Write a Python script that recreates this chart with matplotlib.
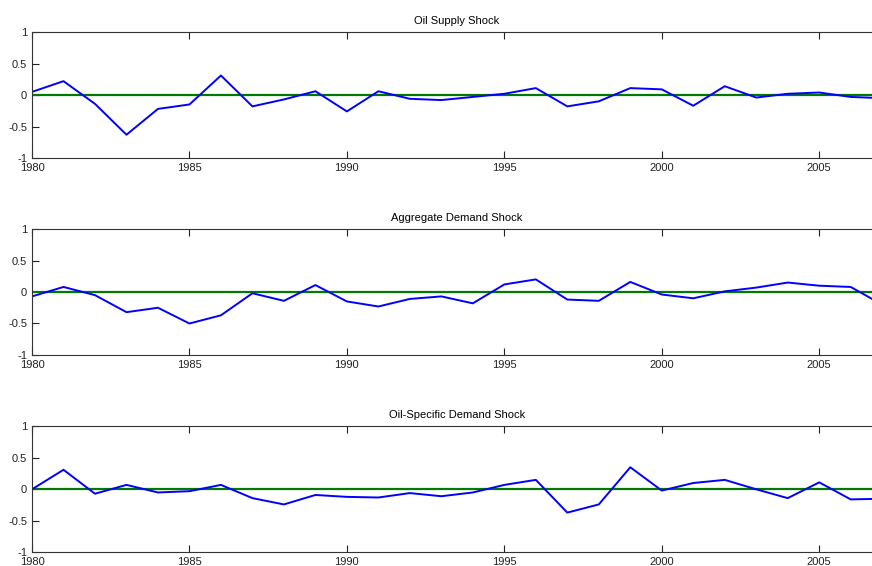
import numpy as np
import matplotlib
matplotlib.use("Agg")
import matplotlib.pyplot as plt

plt.rcParams['font.family'] = ['Liberation Sans', 'DejaVu Sans']

years = list(range(1980, 2008))

oil_supply = [0.05, 0.22, -0.14, -0.63, -0.22, -0.15, 0.31, -0.18, -0.07, 0.06,
              -0.26, 0.06, -0.06, -0.08, -0.03, 0.02, 0.11, -0.18, -0.10, 0.11,
              0.09, -0.17, 0.14, -0.04, 0.02, 0.04, -0.03, -0.05]

agg_demand = [-0.07, 0.08, -0.05, -0.32, -0.25, -0.50, -0.37, -0.02, -0.14, 0.11,
              -0.15, -0.23, -0.11, -0.07, -0.18, 0.12, 0.20, -0.12, -0.14, 0.16,
              -0.04, -0.10, 0.01, 0.07, 0.15, 0.10, 0.08, -0.20]

oil_specific = [0.00, 0.31, -0.07, 0.07, -0.05, -0.03, 0.07, -0.14, -0.24, -0.09,
                -0.12, -0.13, -0.06, -0.11, -0.05, 0.07, 0.15, -0.37, -0.24, 0.35,
                -0.02, 0.10, 0.15, 0.00, -0.14, 0.11, -0.16, -0.15]

titles = ["Oil Supply Shock", "Aggregate Demand Shock", "Oil-Specific Demand Shock"]
series = [oil_supply, agg_demand, oil_specific]

fig = plt.figure(figsize=(8.72, 5.66), dpi=100)

# axes run a little past the right edge, as in the original export
left, width, height = 0.0367, 0.975, 0.2226
bottoms = [0.7208, 0.3728, 0.0242]

for title, vals, bottom in zip(titles, series, bottoms):
    ax = fig.add_axes([left, bottom, width, height])
    ax.plot(years, np.zeros(len(years)), color='#007a00', lw=1.6)
    ax.plot(years, vals, color='#0000ff', lw=1.4)
    ax.set_xlim(1980, 2007)
    ax.set_ylim(-1, 1)
    ax.set_xticks([1980, 1985, 1990, 1995, 2000, 2005])
    ax.set_yticks([-1, -0.5, 0, 0.5, 1])
    ax.set_yticklabels(["-1", "-0.5", "0", "0.5", "1"])
    ax.tick_params(direction='in', length=5, width=0.8, labelsize=8,
                   top=True, right=True, colors='#222222')
    ax.tick_params(axis='x', pad=3.5)
    ax.tick_params(axis='y', pad=3.5)
    for s in ax.spines.values():
        s.set_linewidth(0.8)
        s.set_color('#333333')
    ax.set_title(title, fontsize=8, pad=6)

fig.savefig("out.png", dpi=100)
